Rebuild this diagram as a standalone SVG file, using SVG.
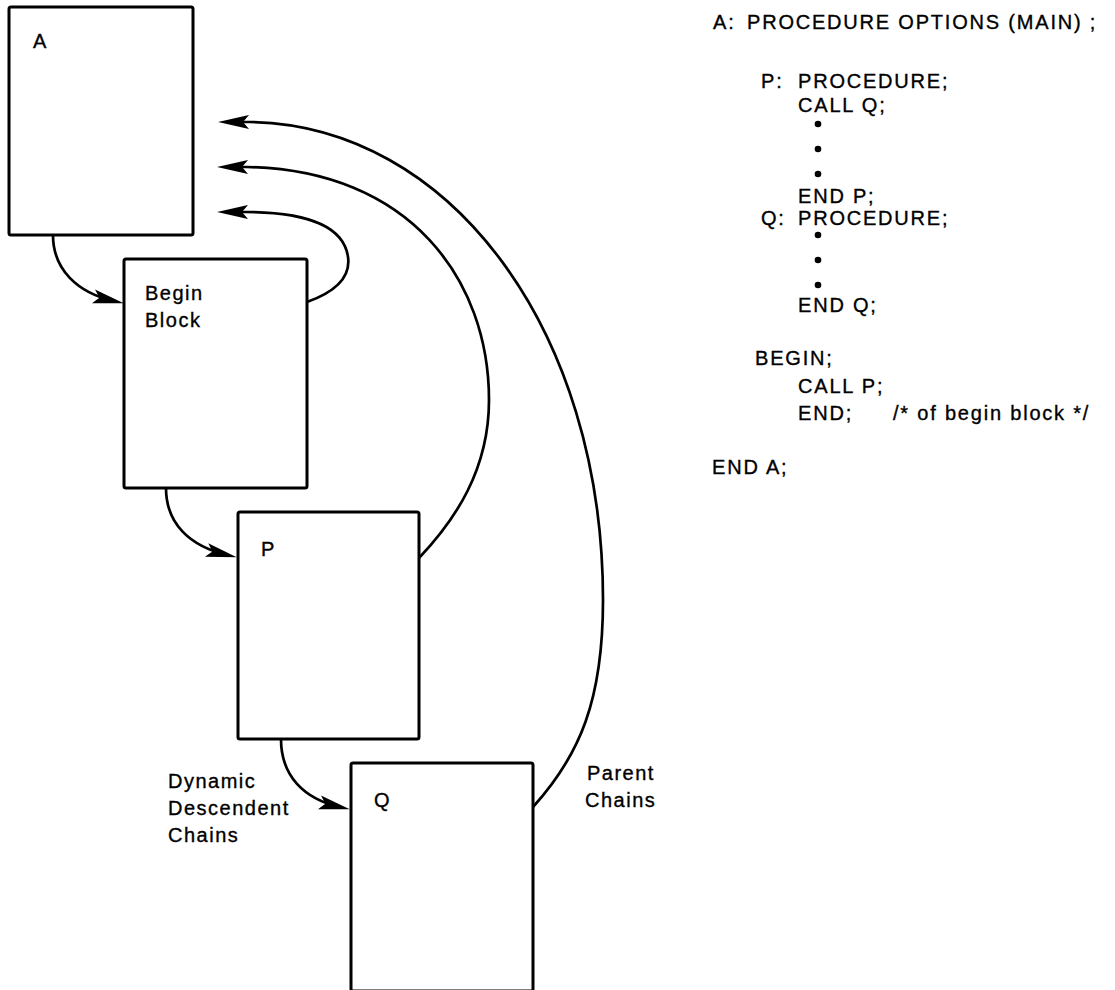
<svg xmlns="http://www.w3.org/2000/svg" width="1115" height="990" viewBox="0 0 1115 990">
<defs>
<style>
.box{fill:#fff;stroke:#000;stroke-width:3;}
.lbl{font-family:"Liberation Sans",Arial,sans-serif;font-size:20px;letter-spacing:1.5px;fill:#000;stroke:#000;stroke-width:0.35px;}
.code{font-family:"Liberation Sans",Arial,sans-serif;font-size:20px;letter-spacing:1.8px;fill:#000;stroke:#000;stroke-width:0.35px;}
.con{fill:none;stroke:#000;stroke-width:2.7;}
.dot{fill:#000;}
</style>
<marker id="ah" markerUnits="userSpaceOnUse" markerWidth="50" markerHeight="30" refX="0" refY="0" viewBox="-30 -15 50 30" orient="auto" overflow="visible">
<path d="M10,0 L-21,-7 L-15,0 L-21,7 Z" fill="#000"/>
</marker>
</defs>
<g id="node-A">
<rect class="box" x="9" y="7" width="184" height="228" rx="2"/>
<text class="lbl" x="33" y="48">A</text>
</g>
<g id="node-begin">
<rect class="box" x="124" y="259" width="183" height="229" rx="2"/>
<text class="lbl" x="145" y="300">Begin</text>
<text class="lbl" x="145" y="327">Block</text>
</g>
<g id="node-P">
<rect class="box" x="238" y="512" width="181" height="227" rx="2"/>
<text class="lbl" x="261" y="556">P</text>
</g>
<g id="node-Q">
<rect class="box" x="351" y="763" width="182" height="228" rx="2"/>
<text class="lbl" x="374" y="807">Q</text>
</g>
<g id="connectors">
<path class="con" marker-end="url(#ah)" d="M53,235 C53,270 78,293 114,301"/>
<path class="con" marker-end="url(#ah)" d="M166,488 C166,524 190,546 227,555"/>
<path class="con" marker-end="url(#ah)" d="M281,739 C281,776 304,799 340,807"/>
<path class="con" marker-end="url(#ah)" d="M307,302 C335,292 351,278 348,257 C344,228 310,212 245,212 L227,212"/>
<path class="con" marker-end="url(#ah)" d="M419,558 C455,520 489,470 489,400 C489,280 410,170 247,167 L227,167"/>
<path class="con" marker-end="url(#ah)" d="M533,807 C580,755 603,700 603,600 C603,330 450,125 250,122 L228,122"/>
</g>
<g id="labels">
<text class="lbl" x="168" y="788">Dynamic</text>
<text class="lbl" x="168" y="815">Descendent</text>
<text class="lbl" x="168" y="842">Chains</text>
<text class="lbl" x="587" y="780">Parent</text>
<text class="lbl" x="585" y="807">Chains</text>
</g>
<g id="code">
<text class="code" x="713" y="29">A:</text>
<text class="code" x="747" y="29">PROCEDURE OPTIONS (MAIN) ;</text>
<text class="code" x="761" y="88">P:</text>
<text class="code" x="798" y="88">PROCEDURE;</text>
<text class="code" x="798" y="112">CALL Q;</text>
<circle class="dot" cx="818" cy="124" r="3.3"/>
<circle class="dot" cx="818" cy="149" r="3.3"/>
<circle class="dot" cx="818" cy="174" r="3.3"/>
<text class="code" x="798" y="203">END P;</text>
<text class="code" x="761" y="225">Q:</text>
<text class="code" x="798" y="225">PROCEDURE;</text>
<circle class="dot" cx="818" cy="235" r="3.3"/>
<circle class="dot" cx="818" cy="260" r="3.3"/>
<circle class="dot" cx="818" cy="285" r="3.3"/>
<text class="code" x="798" y="312">END Q;</text>
<text class="code" x="755" y="365">BEGIN;</text>
<text class="code" x="798" y="393">CALL P;</text>
<text class="code" x="798" y="420">END;</text>
<text class="code" x="893" y="420">/* of begin block */</text>
<text class="code" x="712" y="474">END A;</text>
</g>
</svg>
